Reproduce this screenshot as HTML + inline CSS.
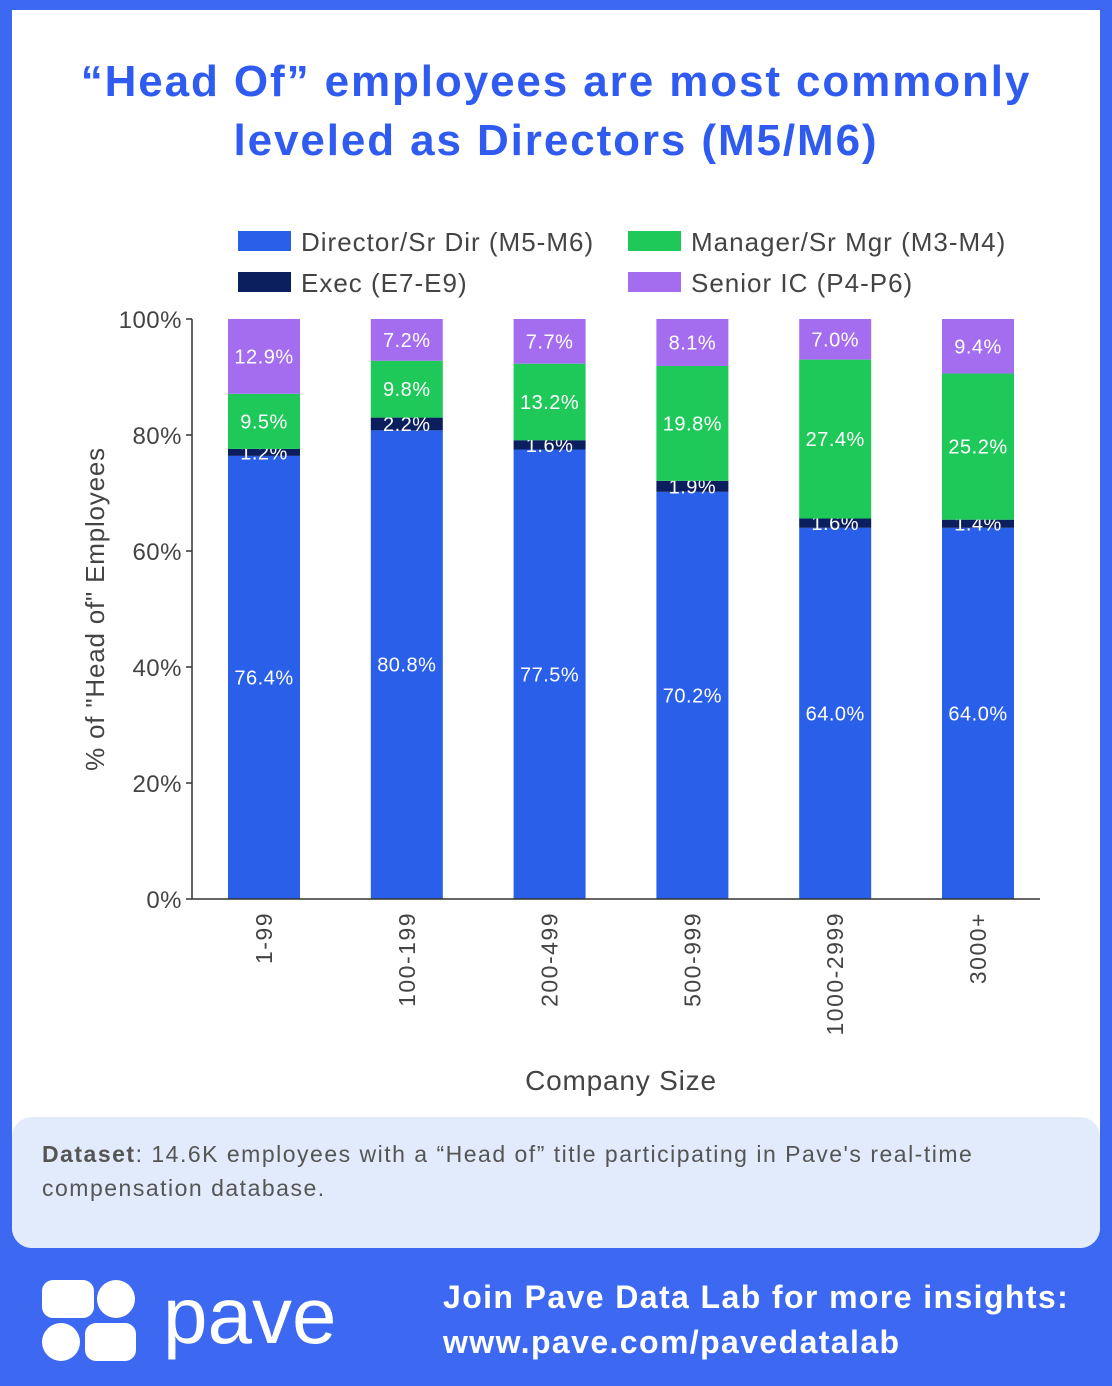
<!DOCTYPE html>
<html><head><meta charset="utf-8">
<style>
body{margin:0;width:1112px;height:1386px;background:#3d68f2;position:relative;overflow:hidden;font-family:"Liberation Sans",sans-serif}
#card{position:absolute;left:12px;top:10px;width:1088px;height:1238px;background:#fff;border-radius:0 0 20px 20px;overflow:hidden}
#title{position:absolute;left:0;top:52px;width:1112px;text-align:center;color:#2f5bf0;font-weight:bold;font-size:44px;line-height:59px;letter-spacing:1.9px}
#dataset{position:absolute;left:12px;top:1117px;width:1088px;height:131px;background:#e2ebfb;border-radius:20px;box-sizing:border-box;padding:20px 30px;color:#555;font-size:23px;line-height:34px;letter-spacing:1.5px;white-space:nowrap}
svg{position:absolute;left:0;top:0}
</style></head><body>
<div id="card"></div>
<div id="title">“Head Of” employees are most commonly<br>leveled as Directors (M5/M6)</div>
<svg id="chart" width="1112" height="1110"></svg>
<div id="dataset"><b>Dataset</b>: 14.6K employees with a “Head of” title participating in Pave's real-time<br>compensation database.</div>
<svg width="1112" height="1386" style="pointer-events:none">
  <g fill="#fff">
    <rect x="42" y="1280" width="52" height="38" rx="11"/>
    <circle cx="116" cy="1299" r="19"/>
    <circle cx="61" cy="1342" r="19"/>
    <rect x="85" y="1323" width="51" height="38" rx="11"/>
    <text x="163" y="1343" font-size="80" font-family="Liberation Sans, sans-serif">pave</text>
  </g>
  <text x="443" y="1308" fill="#fff" font-size="32" font-weight="bold" letter-spacing="1.4">Join Pave Data Lab for more insights:</text>
  <text x="443" y="1353" fill="#fff" font-size="32" font-weight="bold" letter-spacing="1.4">www.pave.com/pavedatalab</text>
</svg>
<script>
const categories=["1-99","100-199","200-499","500-999","1000-2999","3000+"];
const director=[76.4,80.8,77.5,70.2,64.0,64.0];
const exec=[1.2,2.2,1.6,1.9,1.6,1.4];
const manager=[9.5,9.8,13.2,19.8,27.4,25.2];
const senior=[12.9,7.2,7.7,8.1,7.0,9.4];
const yTicks=[0,20,40,60,80,100];
const seriesNames=["Director/Sr Dir (M5-M6)","Exec (E7-E9)","Manager/Sr Mgr (M3-M4)","Senior IC (P4-P6)"];
const colors=["#2a5fea","#0b1f5e","#1ec95a","#a46df0"];
const svg=document.getElementById('chart');
const NS='http://www.w3.org/2000/svg';
const y0=899,y100=319,xL=192,xR=1040,cx0=264,step=142.8,bw=72;
const y=v=>y0-(y0-y100)*v/100;
const x=i=>cx0+i*step;
function mk(tag,attrs,txt){const e=document.createElementNS(NS,tag);for(const k in attrs)e.setAttribute(k,attrs[k]);if(txt!=null)e.textContent=txt;svg.appendChild(e);return e;}
const series=[director,exec,manager,senior];
categories.forEach((c,i)=>{
  let base=0;
  series.forEach((s,si)=>{
    const v=s[i];
    const r=mk('rect',{x:x(i)-bw/2,y:y(base+v),width:bw,height:y(base)-y(base+v),fill:colors[si]});
    
    
    const t=mk('text',{x:x(i),y:y(base+v/2)+7,'text-anchor':'middle',fill:'#fff','font-size':20,'letter-spacing':0.5},v.toFixed(1)+'%');
    
    
    base+=v;
  });
  const lt=mk('text',{transform:`translate(${x(i)+8},912) rotate(-90)`,'text-anchor':'end',fill:'#444','font-size':23,'letter-spacing':1.5},c);
  
  
});
const ax=mk('path',{d:`M${xL} ${y100}V${y0}H${xR}`,stroke:'#333','stroke-width':1.5,fill:'none'});


yTicks.forEach(t=>{
  mk('line',{x1:xL-6,x2:xL,y1:y(t),y2:y(t),stroke:'#333','stroke-width':1.5});
  const tl=mk('text',{x:xL-10,y:y(t)+9,'text-anchor':'end',fill:'#444','font-size':24,'letter-spacing':0.5},t+'%');
  
  
});
const yt=mk('text',{transform:'translate(104,609) rotate(-90)','text-anchor':'middle',fill:'#444','font-size':26,'letter-spacing':0.8},'% of "Head of" Employees');


const xt=mk('text',{x:621,y:1090,'text-anchor':'middle',fill:'#444','font-size':28,'letter-spacing':0.8},'Company Size');


const legPos=[[238,242,0],[238,283,1],[628,242,2],[628,283,3]];
legPos.forEach(([lx,ly,si])=>{
  const r=mk('rect',{x:lx,y:ly-11,width:53,height:20,fill:colors[si]});
  
  
  const t=mk('text',{x:lx+63,y:ly+9,fill:'#444','font-size':26,'letter-spacing':1},seriesNames[si]);
  
  
});
</script>
</body></html>
